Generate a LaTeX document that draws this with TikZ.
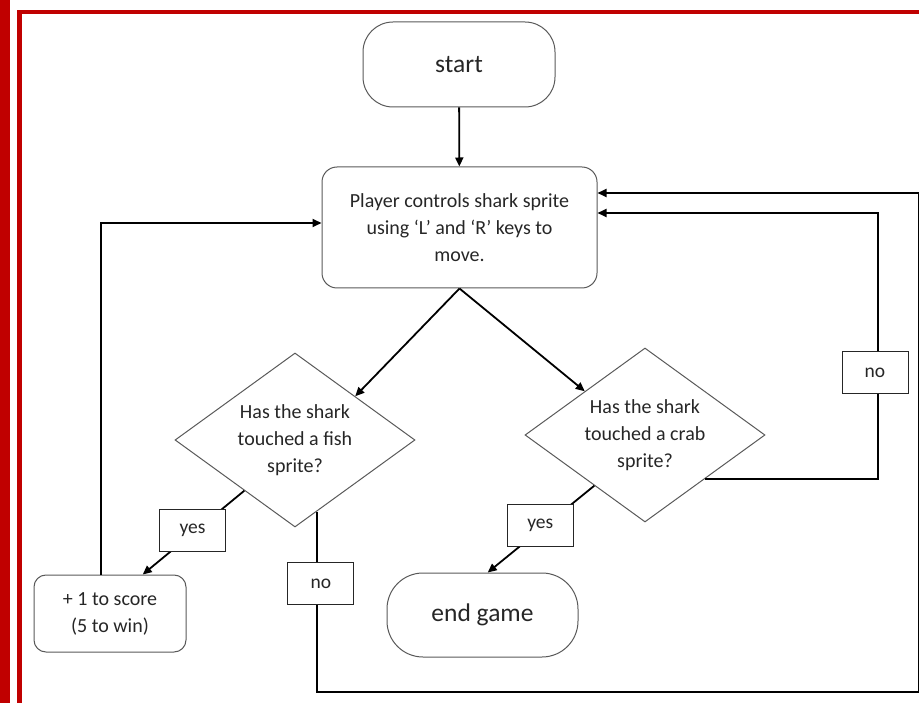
\documentclass[tikz,border=0pt]{standalone}
\usepackage{fontspec}
\setmainfont{Carlito}
\usepackage{tikz}
\usetikzlibrary{shapes.geometric, arrows.meta}

\definecolor{framered}{HTML}{C00000}
\definecolor{edgegray}{HTML}{595959}
\definecolor{textgray}{HTML}{262626}

\begin{document}
\begin{tikzpicture}[x=1pt, y=-1pt,
  every node/.style={text=textgray, font=\fontsize{20}{27}\selectfont},
  box/.style={draw=edgegray, line width=1pt, rounded corners=15pt, align=center, inner sep=0pt},
  term/.style={box, rounded corners=30pt, font=\fontsize{25.5}{30}\selectfont},
  decision/.style={draw=edgegray, line width=1pt, diamond, aspect=1.38, inner sep=0pt, align=center,
    minimum width=240pt, minimum height=174pt},
  lbl/.style={draw=black!85, line width=1pt, fill=white, minimum width=66pt, minimum height=42pt,
    inner sep=0pt, font=\fontsize{19.5}{24}\selectfont},
  arr/.style={line width=1.8pt, -{Triangle[length=9pt, width=8pt]}}]
\useasboundingbox (0,0) rectangle (919,703);
% --- page frame ---
\fill[framered] (0,0) rectangle (10,703);
\fill[framered] (17,10) rectangle (22,703);
\fill[framered] (17,10) rectangle (919,14);
% --- blocks ---
\node[term, minimum width=192pt, minimum height=85pt] (start) at (459,64.5) {start};
\node[box, minimum width=275pt, minimum height=121pt] (main) at (459.5,227.5)
  {Player controls shark sprite\\using ‘L’ and ‘R’ keys to\\move.};
\node[decision] (fish) at (295,440) {Has the shark\\touched a fish\\sprite?};
\node[decision] (crab) at (645,435) {Has the shark\\touched a crab\\sprite?};
\node[box, rounded corners=12pt, minimum width=152pt, minimum height=77pt] (score) at (110,613.5)
  {+ 1 to score\\(5 to win)};
\node[term, rounded corners=36pt, minimum width=191pt, minimum height=84pt] (endg) at (482.5,615) {end game};
% --- turning points of the loops ---
\coordinate (crabturn) at (878,213);
\coordinate (fishbot) at (919,692);
\coordinate (fishtop) at (919,193);
% --- connectors ---
\draw[arr] (start) -- (main);
\draw[arr] (main.south) -- (fish.north east);
\draw[arr] (main.south) -- (crab.north west);
\draw[arr] (fish.225) -- node[lbl, pos=0.47, xshift=-4pt] {yes} (score.50);
\draw[arr] (crab.225) -- node[lbl, pos=0.46, xshift=-5pt] {yes} (endg.83);
\draw[arr] (crab.south east) -| node[lbl, pos=0.7, xshift=-3pt] {no} (crabturn) -- ([yshift=14.5pt]main.east);
\draw[arr] (fish.-73) |- node[lbl, pos=0.2, xshift=4pt] {no} (fishbot) -- (fishtop) -- ([yshift=34.5pt]main.east);
\draw[arr] (score.103) |- ([yshift=4.5pt]main.west);
\end{tikzpicture}
\end{document}
